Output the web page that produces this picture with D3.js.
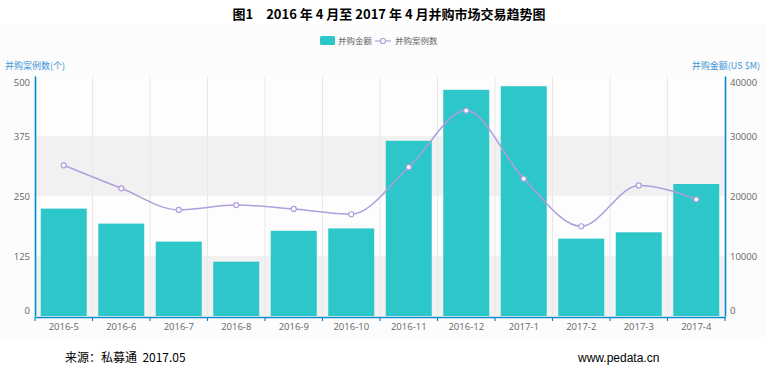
<!DOCTYPE html>
<html>
<head>
<meta charset="utf-8">
<script src="https://d3js.org/d3.v7.min.js"></script>
<style>
body { margin: 0; background: #fff; }
svg { display: block; }
</style>
</head>
<body>
<svg id="chart" width="774" height="375"></svg>
<script>
// categories and values
var months = ["2016-5","2016-6","2016-7","2016-8","2016-9","2016-10","2016-11","2016-12","2017-1","2017-2","2017-3","2017-4"];
// 并购金额 (US $M), right axis
var amount = [17900, 15400, 12400, 9050, 14200, 14600, 29200, 37700, 38300, 12900, 13950, 22000];
// 并购案例数 (个), left axis
var cases = [314, 266, 221, 231, 223, 212, 310, 428, 286, 187, 272, 243];
var leftTicks = [0, 125, 250, 375, 500];
var rightTicks = [0, 10000, 20000, 30000, 40000];

var svg = d3.select("#chart");
var cjk = "'Noto Sans CJK SC', 'Noto Sans', sans-serif";
// plot box (window.top is read-only, so no bare "top")
var pL = 35, pR = 725, pT = 76, pB = 316;

// faint chart background
svg.append("rect")
	.attr("x", 0).attr("y", 24).attr("width", 766).attr("height", 314)
	.attr("fill", "#fcfcfc");

var x = d3.scaleBand().domain(months).range([pL, pR]).paddingInner(0.2).paddingOuter(0.1);
var xb = d3.scaleBand().domain(months).range([pL, pR]);
var yL = d3.scaleLinear().domain([0, 500]).range([pB, pT]);
var yR = d3.scaleLinear().domain([0, 40000]).range([pB, pT]);

// split areas
var bandCols = ["#f1f1f1", "#fdfdfd"];
svg.selectAll("rect.band")
	.data(d3.range(4))
	.enter()
	.append("rect")
	.attr("class", "band")
	.attr("x", pL)
	.attr("width", pR - pL)
	.attr("y", function(i) { return yL(leftTicks[i + 1]); })
	.attr("height", function(i) { return yL(leftTicks[i]) - yL(leftTicks[i + 1]); })
	.attr("fill", function(i) { return bandCols[i % 2]; });

// vertical split lines
svg.selectAll("line.vgrid")
	.data(months.slice(1))
	.enter()
	.append("line")
	.attr("class", "vgrid")
	.attr("x1", function(d) { return xb(d); })
	.attr("x2", function(d) { return xb(d); })
	.attr("y1", pT).attr("y2", pB)
	.attr("stroke", "#e8e8e8");

// bars
svg.selectAll("rect.bar")
	.data(amount)
	.enter()
	.append("rect")
	.attr("class", "bar")
	.attr("x", function(d, i) { return x(months[i]); })
	.attr("width", x.bandwidth())
	.attr("y", function(d) { return yR(d); })
	.attr("height", function(d) { return pB - yR(d); })
	.attr("fill", "#2ec7c9");

// line
var line = d3.line()
	.x(function(d, i) { return xb(months[i]) + xb.bandwidth() / 2; })
	.y(function(d) { return yL(d); })
	.curve(d3.curveMonotoneX);

svg.append("path")
	.attr("d", line(cases))
	.attr("fill", "none")
	.attr("stroke", "#b09ddb")
	.attr("stroke-width", 1.5);

svg.selectAll("circle.pt")
	.data(cases)
	.enter()
	.append("circle")
	.attr("class", "pt")
	.attr("cx", function(d, i) { return xb(months[i]) + xb.bandwidth() / 2; })
	.attr("cy", function(d) { return yL(d); })
	.attr("r", 2.5)
	.attr("fill", "#fff")
	.attr("stroke", "#b09ddb")
	.attr("stroke-width", 1.2);

// axes
var axL = svg.append("g").attr("transform", "translate(" + pL + ",0)")
	.call(d3.axisLeft(yL).tickValues(leftTicks).tickSize(0).tickPadding(5));
var axR = svg.append("g").attr("transform", "translate(" + pR + ",0)")
	.call(d3.axisRight(yR).tickValues(rightTicks).tickFormat(d3.format("d")).tickSize(0).tickPadding(5));
var axB = svg.append("g").attr("transform", "translate(0," + (pB + 1) + ")")
	.call(d3.axisBottom(xb).tickSize(0).tickPadding(6));

[axL, axR, axB].forEach(function(g) {
	g.select(".domain").attr("stroke", "#008acd").attr("stroke-width", 1.6);
	g.selectAll("text")
		.attr("fill", "#666")
		.style("font-family", "'Open Sans', 'DejaVu Sans', sans-serif")
		.style("font-size", "9.5px");
});
// edge labels are pulled inside the plot, as in the reference
[axL, axR].forEach(function(g) {
	g.selectAll(".tick text").attr("dy", function(d, i, n) {
		if (i === 0) return "-0.3em";
		if (i === n.length - 1) return "1.0em";
		return "0.32em";
	});
});

// x-axis ticks at band boundaries
svg.selectAll("line.xtick")
	.data(months.concat(["end"]))
	.enter()
	.append("line")
	.attr("class", "xtick")
	.attr("x1", function(d, i) { return i < months.length ? xb(d) : pR; })
	.attr("x2", function(d, i) { return i < months.length ? xb(d) : pR; })
	.attr("y1", pB + 1).attr("y2", pB + 5)
	.attr("stroke", "#008acd").attr("stroke-width", 1.2);

// axis names
svg.append("text")
	.attr("x", 5).attr("y", 69)
	.attr("fill", "#3b95d6")
	.style("font-family", cjk).style("font-size", "9px")
	.text("并购案例数(个)");

svg.append("text")
	.attr("x", 760).attr("y", 69)
	.attr("text-anchor", "end")
	.attr("fill", "#3b95d6")
	.style("font-family", cjk).style("font-size", "9px")
	.text("并购金额(US $M)");

// legend
svg.append("rect")
	.attr("x", 320).attr("y", 36).attr("width", 15).attr("height", 9).attr("rx", 1.5)
	.attr("fill", "#2ec7c9");
svg.append("text")
	.attr("x", 338).attr("y", 44)
	.attr("fill", "#666")
	.style("font-family", cjk).style("font-size", "8.5px")
	.text("并购金额");
svg.append("line")
	.attr("x1", 375).attr("x2", 391).attr("y1", 41).attr("y2", 41)
	.attr("stroke", "#b09ddb").attr("stroke-width", 1.2);
svg.append("circle")
	.attr("cx", 383).attr("cy", 41).attr("r", 2.5)
	.attr("fill", "#fff").attr("stroke", "#b09ddb").attr("stroke-width", 1.2);
svg.append("text")
	.attr("x", 395).attr("y", 44)
	.attr("fill", "#666")
	.style("font-family", cjk).style("font-size", "8.5px")
	.text("并购案例数");

// title
svg.append("text")
	.attr("x", 389).attr("y", 19)
	.attr("text-anchor", "middle")
	.attr("fill", "#000")
	.style("font-family", cjk).style("font-weight", "bold").style("font-size", "13px")
	.text("图1　2016 年 4 月至 2017 年 4 月并购市场交易趋势图");

// footer
svg.append("text")
	.attr("x", 65).attr("y", 362)
	.attr("fill", "#000")
	.style("white-space", "pre")
	.style("font-family", cjk).style("font-size", "12px")
	.text("来源：私募通  2017.05");

svg.append("text")
	.attr("x", 578).attr("y", 362)
	.attr("fill", "#000")
	.style("font-family", "'Liberation Sans', Arial, sans-serif").style("font-size", "12px")
	.text("www.pedata.cn");
</script>
</body>
</html>
